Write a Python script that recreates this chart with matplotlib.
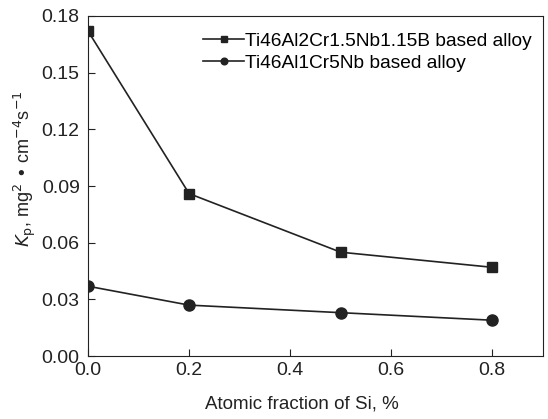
import matplotlib
matplotlib.use("Agg")
import matplotlib.pyplot as plt

plt.rcParams['font.family'] = ['Liberation Sans', 'DejaVu Sans']

si = [0.0, 0.2, 0.5, 0.8]
kp_b = [0.172, 0.086, 0.055, 0.047]
kp_nb = [0.037, 0.027, 0.023, 0.019]
labels = ['Ti46Al2Cr1.5Nb1.15B based alloy', 'Ti46Al1Cr5Nb based alloy']

fig = plt.figure(figsize=(5.48, 4.19), dpi=100)
ax = fig.add_axes([0.1606, 0.150, 0.830, 0.812])

ax.plot(si, kp_b, color='#222222', marker='s', markersize=7, lw=1.2, label=labels[0])
ax.plot(si, kp_nb, color='#222222', marker='o', markersize=8, lw=1.2, label=labels[1])

ax.set_xlim(0, 0.9)
ax.set_ylim(0, 0.18)
ax.set_xticks([0.0, 0.2, 0.4, 0.6, 0.8])
ax.set_yticks([0.0, 0.03, 0.06, 0.09, 0.12, 0.15, 0.18])
ax.xaxis.set_major_formatter(matplotlib.ticker.FormatStrFormatter('%.1f'))
ax.yaxis.set_major_formatter(matplotlib.ticker.FormatStrFormatter('%.2f'))
ax.tick_params(direction='in', labelsize=14, colors='#222222', length=5, pad=4)
ax.tick_params(axis='y', pad=6)
for s in ax.spines.values():
    s.set_color('#222222')

ax.set_xlabel('Atomic fraction of Si, %', fontsize=13.5, color='#222222')
ax.xaxis.set_label_coords(0.47, -0.115)
ax.set_ylabel(r'$K_\mathrm{p}$, mg$^2$ • cm$^{-4}$s$^{-1}$', fontsize=13, color='#222222')
ax.yaxis.set_label_coords(-0.11, 0.55)

leg = ax.legend(loc='upper right', frameon=False, fontsize=13.8, markerscale=0.6,
                handlelength=2.1, handletextpad=0.05, labelspacing=0.25,
                borderaxespad=0.2, bbox_to_anchor=(1.0, 0.985))

plt.savefig('out.png', dpi=100)
